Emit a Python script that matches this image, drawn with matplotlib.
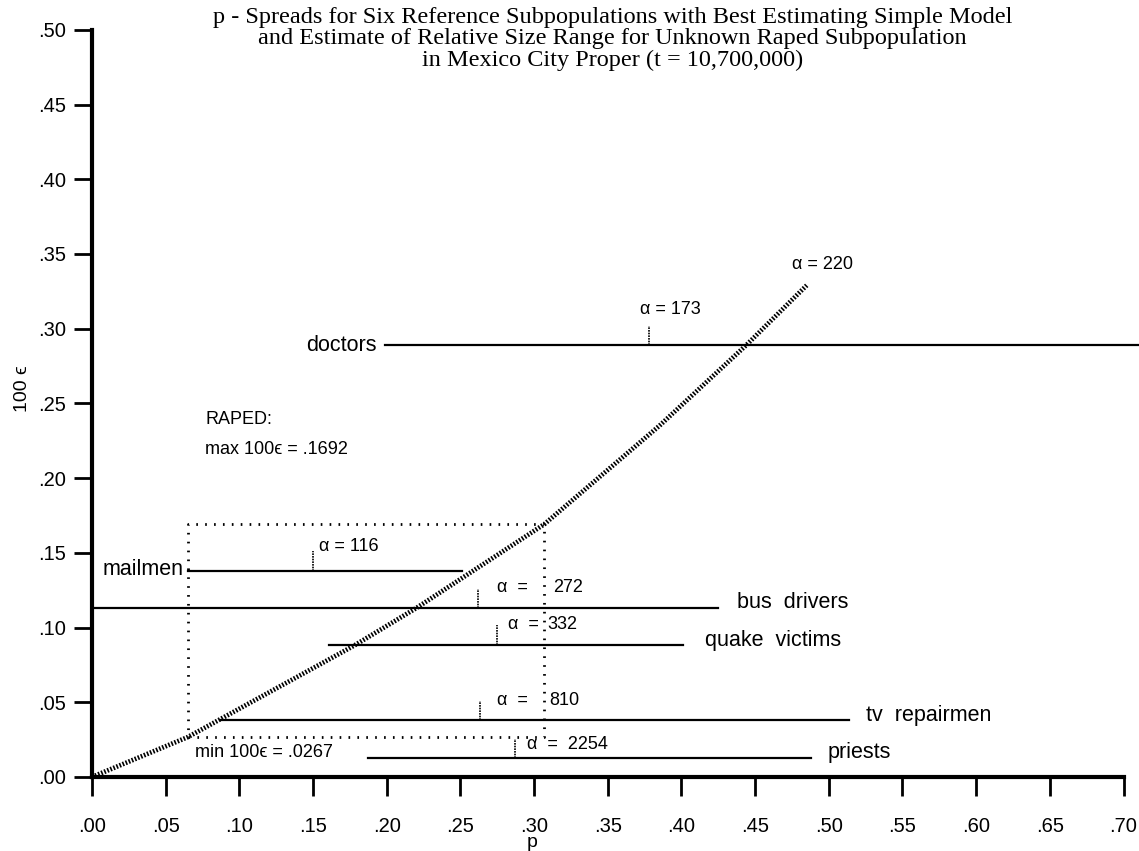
import numpy as np
import matplotlib.pyplot as plt

# ==========================================
# DATA
# ==========================================

groups = ['doctors', 'mailmen', 'bus drivers', 'quake victims', 'tv repairmen', 'priests']
eps_level = [0.289, 0.138, 0.113, 0.0884, 0.038, 0.0127]   # 100 eps of each group
p_low = [0.199, 0.065, 0.0, 0.161, 0.087, 0.187]            # left end of p-spread
p_high = [0.72, 0.251, 0.425, 0.401, 0.514, 0.488]          # right end of p-spread
alpha_vals = ['173', '116', '272', '332', '810', '2254']
alpha_p = [0.378, 0.150, 0.262, 0.275, 0.263, 0.287]        # p where alpha tick sits

# best estimating simple model curve
curve_p = [0.0, 0.065, 0.178, 0.22, 0.307, 0.385, 0.444, 0.485]
curve_eps = [0.0, 0.0267, 0.088, 0.113, 0.1692, 0.235, 0.289, 0.329]
curve_alpha = '220'

# raped subpopulation range
raped_min = 0.0267
raped_max = 0.1692
raped_p = [0.065, 0.307]

xticks = np.arange(0, 0.701, 0.05)
yticks = np.arange(0, 0.501, 0.05)

plt.rcParams['font.family'] = ['Liberation Sans', 'DejaVu Sans']

fig = plt.figure(figsize=(11.39, 8.51), dpi=100)
ax = fig.add_axes([0.0808, 0.087, 0.9192, 0.878])

# ==========================================
# SPREADS
# ==========================================
for i, g in enumerate(groups):
    y = eps_level[i]
    ax.plot([p_low[i], p_high[i]], [y, y], color='black', lw=1.6, clip_on=True)
    # small alpha marker above the spread
    ax.plot([alpha_p[i], alpha_p[i]], [y, y + 0.013], color='black', lw=1.2,
            linestyle=(0, (1, 0.6)))

# group labels
lab_fs = 15.5
ax.text(0.193, 0.289, 'doctors', ha='right', va='center', fontsize=lab_fs)
ax.text(0.062, 0.139, 'mailmen', ha='right', va='center', fontsize=lab_fs)
ax.text(0.438, 0.1165, 'bus  drivers', ha='left', va='center', fontsize=lab_fs)
ax.text(0.416, 0.0915, 'quake  victims', ha='left', va='center', fontsize=lab_fs)
ax.text(0.525, 0.041, 'tv  repairmen', ha='left', va='center', fontsize=lab_fs)
ax.text(0.499, 0.0165, 'priests', ha='left', va='center', fontsize=lab_fs)

# alpha labels
a_fs = 13
ax.text(0.372, 0.3125, 'α = ' + alpha_vals[0], ha='left', va='center', fontsize=a_fs)
ax.text(0.154, 0.154, 'α = ' + alpha_vals[1], ha='left', va='center', fontsize=a_fs)
ax.text(0.275, 0.1265, 'α  =', ha='left', va='center', fontsize=a_fs)
ax.text(0.313, 0.1265, alpha_vals[2], ha='left', va='center', fontsize=a_fs)
ax.text(0.282, 0.102, 'α  =', ha='left', va='center', fontsize=a_fs)
ax.text(0.309, 0.102, alpha_vals[3], ha='left', va='center', fontsize=a_fs)
ax.text(0.275, 0.0515, 'α  =', ha='left', va='center', fontsize=a_fs)
ax.text(0.310, 0.0515, alpha_vals[4], ha='left', va='center', fontsize=a_fs)
ax.text(0.295, 0.0214, 'α  =  ' + alpha_vals[5], ha='left', va='center', fontsize=a_fs)
ax.text(0.475, 0.343, 'α = ' + curve_alpha, ha='left', va='center', fontsize=a_fs)

# ==========================================
# MODEL CURVE + RAPED BOX
# ==========================================
ax.plot(curve_p, curve_eps, color='black', lw=3.4, linestyle=(0, (0.35, 0.35)))

ax.plot([raped_p[0], raped_p[1], raped_p[1], raped_p[0], raped_p[0]],
        [raped_min, raped_min, raped_max, raped_max, raped_min],
        color='black', lw=2, linestyle=(0, (0.6, 2.6)))

ax.text(0.077, 0.239, 'RAPED:', ha='left', va='center', fontsize=13)
ax.text(0.077, 0.219, 'max 100\u03f5 = .1692', ha='left', va='center', fontsize=13)
ax.text(0.070, 0.0167, 'min 100\u03f5 = .0267', ha='left', va='center', fontsize=13)

# ==========================================
# AXES
# ==========================================
ax.set_xlim(0, 0.7105)
ax.set_ylim(0, 0.5)
for s in ['top', 'right']:
    ax.spines[s].set_visible(False)
ax.spines['left'].set_linewidth(3)
ax.spines['bottom'].set_linewidth(3)
ax.spines['bottom'].set_bounds(0, 0.70)

ax.set_xticks(xticks)
ax.set_xticklabels(['.%02d' % round(t * 100) for t in xticks], fontsize=14.5)
ax.set_yticks(yticks)
ax.set_yticklabels(['.%02d' % round(t * 100) for t in yticks], fontsize=14.5)
ax.tick_params(axis='x', length=14, width=2, pad=15)
ax.tick_params(axis='y', length=13, width=2, pad=6)

ax.set_xlabel('p', fontsize=14)
ax.xaxis.set_label_coords(0.42, -0.077)
ax.set_ylabel('100 \u03f5', fontsize=14)
ax.yaxis.set_label_coords(-0.058, 0.52)

fig.text(0.538, 0.992,
         'p - Spreads for Six Reference Subpopulations with Best Estimating Simple Model\n'
         'and Estimate of Relative Size Range for Unknown Raped Subpopulation\n'
         'in Mexico City Proper (t = 10,700,000)',
         ha='center', va='top', fontsize=17.5, family='Liberation Serif', linespacing=1.02)

fig.savefig('out.png', dpi=100)
